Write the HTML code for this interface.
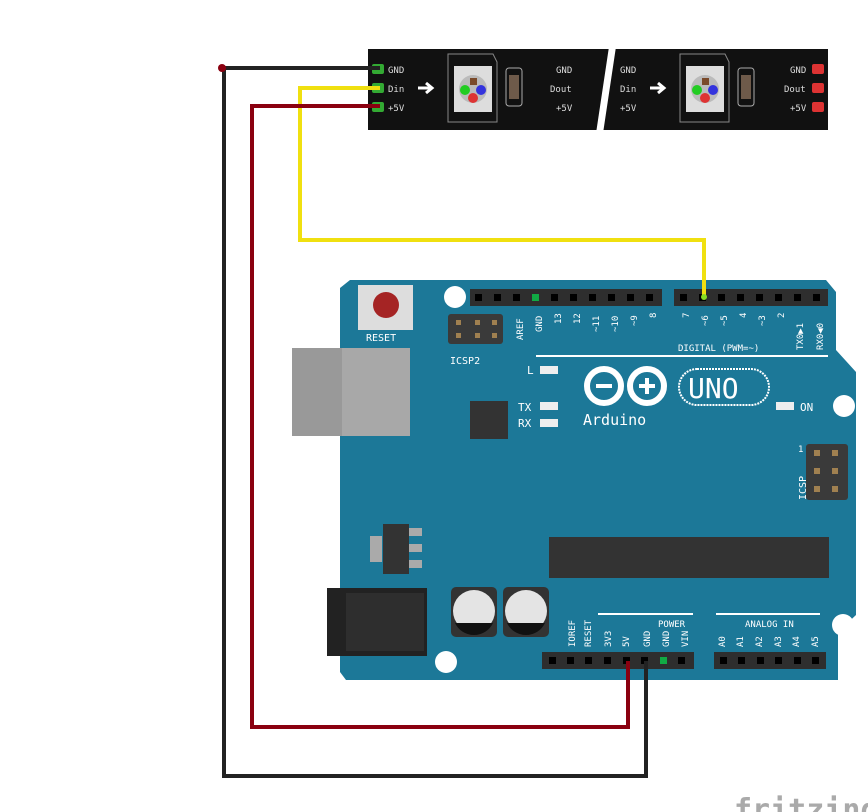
<!DOCTYPE html>
<html><head><meta charset="utf-8"><style>
html,body{margin:0;padding:0;background:#fff;width:868px;height:812px;overflow:hidden}
svg{display:block}
text{font-family:"DejaVu Sans Mono","Liberation Mono",monospace}
</style></head><body>
<svg width="868" height="812" viewBox="0 0 868 812" xmlns="http://www.w3.org/2000/svg">
<!-- LED strip -->
<rect x="368" y="49" width="460" height="81" fill="#111"/>
<polygon points="610,40 617,40 602,140 595,140" fill="#fff"/>
<g font-size="9" fill="#ddd">
<text x="388" y="73">GND</text><text x="388" y="92">Din</text><text x="388" y="111">+5V</text>
<text x="556" y="73">GND</text><text x="550" y="92">Dout</text><text x="556" y="111">+5V</text>
<text x="620" y="73">GND</text><text x="620" y="92">Din</text><text x="620" y="111">+5V</text>
<text x="790" y="73">GND</text><text x="784" y="92">Dout</text><text x="790" y="111">+5V</text>
</g>
<g fill="#3a3"><rect x="372" y="64" width="12" height="10" rx="2"/><rect x="372" y="83" width="12" height="10" rx="2"/><rect x="372" y="102" width="12" height="10" rx="2"/></g>
<g fill="#d33"><rect x="812" y="64" width="12" height="10" rx="2"/><rect x="812" y="83" width="12" height="10" rx="2"/><rect x="812" y="102" width="12" height="10" rx="2"/></g>
<g id="led">
<polygon points="448,54 493,54 497,62 497,122 448,122" fill="none" stroke="#888" stroke-width="1"/>
<rect x="454" y="66" width="38" height="46" fill="#ddd"/>
<circle cx="473" cy="89" r="14" fill="#bbb"/>
<rect x="470" y="78" width="7" height="7" fill="#7a4a2a"/>
<circle cx="465" cy="90" r="5" fill="#2c2"/><circle cx="481" cy="90" r="5" fill="#33d"/><circle cx="473" cy="98" r="5" fill="#d33"/>
<rect x="506" y="68" width="16" height="38" rx="3" fill="none" stroke="#aaa"/>
<rect x="509" y="75" width="10" height="24" fill="#6e5a4a"/>
<path d="M418,88 h12 M426,83 l6,5 l-6,5" stroke="#fff" stroke-width="3" fill="none"/>
</g>
<use href="#led" transform="translate(232,0)"/>

<!-- Arduino board -->
<polygon points="350,280 826,280 836,292 836,350 856,372 856,615 838,632 838,680 346,680 340,672 340,288" fill="#1c7898"/>
<circle cx="455" cy="297" r="11" fill="#fff"/><circle cx="844" cy="406" r="11" fill="#fff"/><circle cx="446" cy="662" r="11" fill="#fff"/><circle cx="843" cy="625" r="11" fill="#fff"/>
<rect x="358" y="285" width="55" height="45" fill="#ddd"/>
<circle cx="386" cy="305" r="13" fill="#a52424"/>
<text x="366" y="341" font-size="10" fill="#fff">RESET</text>
<rect x="448" y="314" width="55" height="30" rx="3" fill="#3a3a3a"/>
<g fill="#a08050"><rect x="456" y="320" width="5" height="5"/><rect x="475" y="320" width="5" height="5"/><rect x="492" y="320" width="5" height="5"/><rect x="456" y="333" width="5" height="5"/><rect x="475" y="333" width="5" height="5"/><rect x="492" y="333" width="5" height="5"/></g>
<text x="450" y="364" font-size="10" fill="#fff">ICSP2</text>
<rect x="292" y="348" width="118" height="88" fill="#a8a8a8"/>
<rect x="292" y="348" width="50" height="88" fill="#999"/>
<rect x="470" y="289" width="192" height="17" fill="#2e2e2e"/>
<rect x="674" y="289" width="154" height="17" fill="#2e2e2e"/>
<g fill="#000">
<rect x="475" y="294" width="7" height="7"/><rect x="494" y="294" width="7" height="7"/><rect x="513" y="294" width="7" height="7"/><rect x="532" y="294" width="7" height="7" fill="#1a4"/><rect x="551" y="294" width="7" height="7"/><rect x="570" y="294" width="7" height="7"/><rect x="589" y="294" width="7" height="7"/><rect x="608" y="294" width="7" height="7"/><rect x="627" y="294" width="7" height="7"/><rect x="646" y="294" width="7" height="7"/>
<rect x="680" y="294" width="7" height="7"/><rect x="699" y="294" width="7" height="7"/><rect x="718" y="294" width="7" height="7"/><rect x="737" y="294" width="7" height="7"/><rect x="756" y="294" width="7" height="7"/><rect x="775" y="294" width="7" height="7"/><rect x="794" y="294" width="7" height="7"/><rect x="813" y="294" width="7" height="7"/>
</g>
<g font-size="9" fill="#fff">
<text transform="translate(523,340) rotate(-90)">AREF</text><text transform="translate(542,332) rotate(-90)">GND</text>
<text transform="translate(561,324) rotate(-90)">13</text><text transform="translate(580,324) rotate(-90)">12</text>
<text transform="translate(599,332) rotate(-90)">~11</text><text transform="translate(618,332) rotate(-90)">~10</text>
<text transform="translate(637,326) rotate(-90)">~9</text><text transform="translate(656,318) rotate(-90)">8</text>
<text transform="translate(689,318) rotate(-90)">7</text><text transform="translate(708,326) rotate(-90)">~6</text>
<text transform="translate(727,326) rotate(-90)">~5</text><text transform="translate(746,318) rotate(-90)">4</text>
<text transform="translate(765,326) rotate(-90)">~3</text><text transform="translate(784,318) rotate(-90)">2</text>
<text transform="translate(803,350) rotate(-90)">TX0▶1</text><text transform="translate(823,350) rotate(-90)">RX0◀0</text>
<text x="678" y="351">DIGITAL (PWM=~)</text>
</g>
<rect x="536" y="355" width="292" height="2" fill="#fff"/>
<g font-size="11" fill="#fff"><text x="527" y="374">L</text><text x="518" y="411">TX</text><text x="518" y="427">RX</text><text x="800" y="411">ON</text></g>
<g fill="#eee"><rect x="540" y="366" width="18" height="8"/><rect x="540" y="402" width="18" height="8"/><rect x="540" y="419" width="18" height="8"/><rect x="776" y="402" width="18" height="8"/></g>
<rect x="470" y="401" width="38" height="38" fill="#333"/>
<g fill="none" stroke="#fff" stroke-width="6"><circle cx="604" cy="386" r="17"/><circle cx="647" cy="386" r="17"/></g>
<g stroke="#fff" stroke-width="4"><line x1="596" y1="386" x2="612" y2="386"/><line x1="639" y1="386" x2="655" y2="386"/><line x1="647" y1="378" x2="647" y2="394"/></g>
<rect x="679" y="369" width="90" height="36" rx="18" fill="none" stroke="#fff" stroke-width="2" stroke-dasharray="2,1"/>
<text x="688" y="398" font-family="Liberation Sans,sans-serif" font-size="28" fill="#fff">UNO</text>
<text x="583" y="425" font-size="15" fill="#fff">Arduino</text>
<rect x="806" y="444" width="42" height="56" rx="3" fill="#3a3a3a"/>
<g fill="#a08050"><rect x="814" y="450" width="6" height="6"/><rect x="832" y="450" width="6" height="6"/><rect x="814" y="468" width="6" height="6"/><rect x="832" y="468" width="6" height="6"/><rect x="814" y="486" width="6" height="6"/><rect x="832" y="486" width="6" height="6"/></g>
<text transform="translate(806,500) rotate(-90)" font-size="10" fill="#fff">ICSP</text>
<text x="798" y="452" font-size="9" fill="#fff">1</text>
<rect x="549" y="537" width="280" height="41" fill="#333"/>
<rect x="370" y="536" width="12" height="26" fill="#aaa"/>
<g fill="#aaa"><rect x="408" y="528" width="14" height="8"/><rect x="408" y="544" width="14" height="8"/><rect x="408" y="560" width="14" height="8"/></g>
<rect x="383" y="524" width="26" height="50" fill="#333"/>
<rect x="327" y="588" width="100" height="68" fill="#222"/>
<rect x="346" y="593" width="78" height="58" fill="#2e2e2e"/>
<rect x="451" y="587" width="46" height="50" rx="5" fill="#333"/>
<rect x="503" y="587" width="46" height="50" rx="5" fill="#333"/>
<circle cx="474" cy="611" r="21" fill="#e4e4e4"/><circle cx="526" cy="611" r="21" fill="#e4e4e4"/>
<path d="M455,623 h38 a21,21 0 0 1 -38,0z" fill="#111"/><path d="M507,623 h38 a21,21 0 0 1 -38,0z" fill="#111"/>
<rect x="598" y="613" width="95" height="2" fill="#fff"/><rect x="716" y="613" width="104" height="2" fill="#fff"/>
<g font-size="9" fill="#fff"><text x="658" y="627">POWER</text><text x="745" y="627">ANALOG IN</text>
<text transform="translate(575,647) rotate(-90)">IOREF</text><text transform="translate(591,647) rotate(-90)">RESET</text>
<text transform="translate(611,647) rotate(-90)">3V3</text><text transform="translate(629,647) rotate(-90)">5V</text>
<text transform="translate(650,647) rotate(-90)">GND</text><text transform="translate(669,647) rotate(-90)">GND</text>
<text transform="translate(688,647) rotate(-90)">VIN</text>
<text transform="translate(725,647) rotate(-90)">A0</text><text transform="translate(743,647) rotate(-90)">A1</text>
<text transform="translate(762,647) rotate(-90)">A2</text><text transform="translate(781,647) rotate(-90)">A3</text>
<text transform="translate(799,647) rotate(-90)">A4</text><text transform="translate(818,647) rotate(-90)">A5</text></g>
<rect x="542" y="652" width="152" height="17" fill="#2e2e2e"/>
<rect x="714" y="652" width="112" height="17" fill="#2e2e2e"/>
<g fill="#000">
<rect x="549" y="657" width="7" height="7"/><rect x="567" y="657" width="7" height="7"/><rect x="585" y="657" width="7" height="7"/><rect x="604" y="657" width="7" height="7"/><rect x="623" y="657" width="7" height="7"/><rect x="641" y="657" width="7" height="7"/><rect x="660" y="657" width="7" height="7" fill="#1a4"/><rect x="678" y="657" width="7" height="7"/>
<rect x="720" y="657" width="7" height="7"/><rect x="738" y="657" width="7" height="7"/><rect x="757" y="657" width="7" height="7"/><rect x="775" y="657" width="7" height="7"/><rect x="794" y="657" width="7" height="7"/><rect x="812" y="657" width="7" height="7"/>
</g>
<g fill="none" stroke-width="4" stroke-linejoin="miter">
<polyline points="380,88 300,88 300,240 704,240 704,297" stroke="#f0e010"/>
<polyline points="380,68 224,68 224,776 646,776 646,661" stroke="#222"/>
<polyline points="380,106 252,106 252,727 628,727 628,661" stroke="#8a0010"/>
</g>
<circle cx="222" cy="68" r="4" fill="#8a0010"/>
<circle cx="704" cy="297" r="3" fill="#8d2"/>
<text x="734" y="820" font-family="Liberation Sans,sans-serif" font-size="30" font-weight="bold" fill="#aaa">fritzing</text>
</svg>
</body></html>
